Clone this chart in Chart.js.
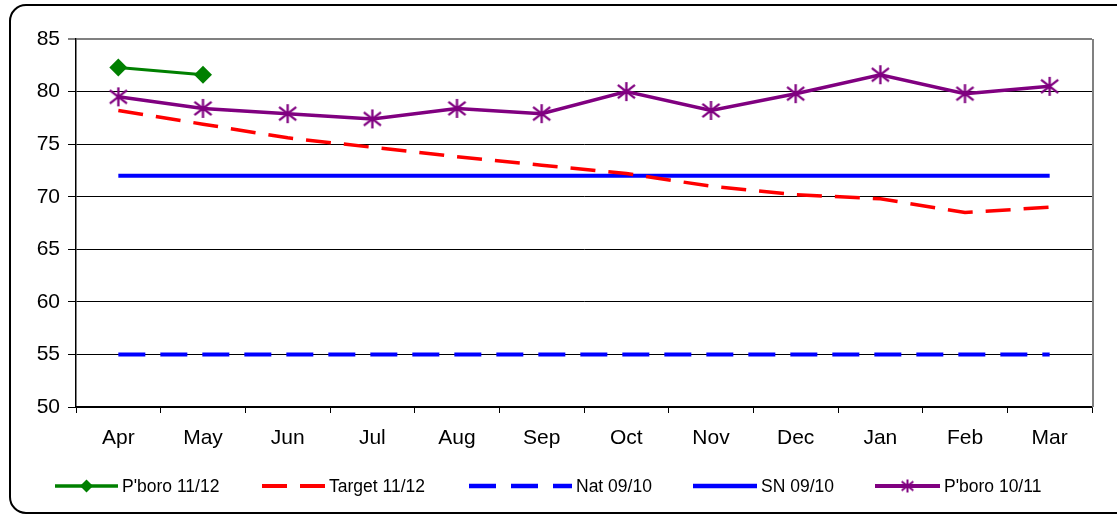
<!DOCTYPE html>
<html lang="en">
<head>
  <meta charset="UTF-8">
  <title>P'boro monthly chart</title>
  <style>
    body { margin: 0; padding: 0; background: #fff; }
    #wrap { width: 1117px; height: 515px; position: relative; }
  </style>
</head>
<body>
<div id="wrap"><canvas id="chart" width="1117" height="515"></canvas></div>

<script src="https://cdn.jsdelivr.net/npm/chart.js"></script>
<script>
  // months
  const months = ['Apr', 'May', 'Jun', 'Jul', 'Aug', 'Sep', 'Oct', 'Nov', 'Dec', 'Jan', 'Feb', 'Mar'];

  // series values
  const pboro1112 = [82.3, 81.6, null, null, null, null, null, null, null, null, null, null];
  const target1112 = [78.2, 76.9, 75.6, 74.7, 73.8, 73.0, 72.2, 71.0, 70.2, 69.8, 68.5, 69.0];
  const nat0910 = [55, 55, 55, 55, 55, 55, 55, 55, 55, 55, 55, 55];
  const sn0910 = [72, 72, 72, 72, 72, 72, 72, 72, 72, 72, 72, 72];
  const pboro1011 = [79.5, 78.4, 77.9, 77.4, 78.4, 77.9, 80.0, 78.2, 79.8, 81.6, 79.8, 80.5];

  const yTicks = [50, 55, 60, 65, 70, 75, 80, 85];

  const FONT = '"Liberation Sans", Arial, sans-serif';

  // star marker (asterisk like the excel one)
  function makeStar(r, color, w) {
    const c = document.createElement('canvas');
    const s = r * 2 + 4;
    c.width = s; c.height = s;
    const g = c.getContext('2d');
    const m = s / 2;
    g.strokeStyle = color;
    g.lineWidth = w;
    g.beginPath();
    g.moveTo(m, m - r); g.lineTo(m, m + r);
    g.moveTo(m - r * 0.9, m - r * 0.7); g.lineTo(m + r * 0.9, m + r * 0.7);
    g.moveTo(m - r * 0.9, m + r * 0.7); g.lineTo(m + r * 0.9, m - r * 0.7);
    g.stroke();
    return c;
  }
  const starBig = makeStar(9.5, '#800080', 2.3);
  const starSmall = makeStar(6.5, '#800080', 2);

  // frame, white back, right plot border
  const framePlugin = {
    id: 'frame',
    beforeDraw(chart) {
      const ctx = chart.ctx;
      ctx.save();
      ctx.fillStyle = '#fff';
      ctx.fillRect(0, 0, chart.width, chart.height);
      ctx.strokeStyle = '#000';
      ctx.lineWidth = 2;
      ctx.beginPath();
      ctx.roundRect(10, 5, 1130, 508, 16);
      ctx.stroke();
      ctx.restore();
    },
    afterDatasetsDraw(chart) {
      const a = chart.chartArea;
      const ctx = chart.ctx;
      ctx.save();
      ctx.strokeStyle = '#808080';
      ctx.lineWidth = 2;
      ctx.beginPath();
      ctx.moveTo(a.right + 1, a.top);
      ctx.lineTo(a.right + 1, a.bottom);
      ctx.stroke();
      ctx.restore();
    }
  };

  // legend drawn by hand to show line + marker
  const legendPlugin = {
    id: 'handLegend',
    afterDraw(chart) {
      const ctx = chart.ctx;
      const starts = [55, 262, 469, 693, 875];
      const lens = [63, 63, 103, 64, 65];
      const y = 486;
      ctx.save();
      chart.data.datasets.forEach((ds, i) => {
        const x0 = starts[i], x1 = starts[i] + lens[i];
        ctx.strokeStyle = ds.borderColor;
        ctx.lineWidth = ds.borderWidth + 0.5;
        ctx.setLineDash(ds.borderDash || []);
        ctx.beginPath();
        ctx.moveTo(x0, y);
        ctx.lineTo(x1, y);
        ctx.stroke();
        ctx.setLineDash([]);
        const mx = (x0 + x1) / 2;
        if (ds.legendMarker === 'diamond') {
          ctx.fillStyle = ds.borderColor;
          ctx.beginPath();
          ctx.moveTo(mx, y - 6.5); ctx.lineTo(mx + 6.5, y); ctx.lineTo(mx, y + 6.5); ctx.lineTo(mx - 6.5, y);
          ctx.closePath();
          ctx.fill();
        } else if (ds.legendMarker === 'star') {
          ctx.drawImage(starSmall, mx - starSmall.width / 2, y - starSmall.height / 2);
        }
        ctx.fillStyle = '#000';
        ctx.font = '17.5px ' + FONT;
        ctx.textBaseline = 'middle';
        ctx.fillText(ds.label, x1 + 4, y + 1);
      });
      ctx.restore();
    }
  };

  const ctx = document.getElementById('chart').getContext('2d');
  new Chart(ctx, {
    type: 'line',
    data: {
      labels: months,
      datasets: [
        {
          label: "P'boro 11/12", data: pboro1112,
          borderColor: '#008000', backgroundColor: '#008000', borderWidth: 3,
          pointStyle: 'rectRot', pointRadius: 9, pointBorderWidth: 0, legendMarker: 'diamond'
        },
        {
          label: 'Target 11/12', data: target1112,
          borderColor: '#ff0000', borderWidth: 3.5, borderDash: [25, 13],
          pointRadius: 0
        },
        {
          label: 'Nat 09/10', data: nat0910,
          borderColor: '#0000ff', borderWidth: 4, borderDash: [27, 15],
          pointRadius: 0
        },
        {
          label: 'SN 09/10', data: sn0910,
          borderColor: '#0000ff', borderWidth: 4,
          pointRadius: 0
        },
        {
          label: "P'boro 10/11", data: pboro1011,
          borderColor: '#800080', backgroundColor: '#800080', borderWidth: 3.5,
          pointStyle: starBig, pointRadius: 9, legendMarker: 'star'
        }
      ]
    },
    options: {
      responsive: false,
      animation: false,
      spanGaps: false,
      layout: { padding: { left: 20, top: 39, right: 25, bottom: 60 } },
      plugins: { legend: { display: false }, tooltip: { enabled: false } },
      elements: { line: { tension: 0 } },
      scales: {
        x: {
          offset: true,
          afterFit(s) { s.height = 48; },
          grid: { offset: true, drawOnChartArea: false, drawTicks: true, tickLength: 6, color: '#000' },
          border: { color: '#000', width: 1.5 },
          ticks: { color: '#000', padding: 13, font: { family: FONT, size: 21 } }
        },
        y: {
          min: 50, max: 85,
          afterFit(s) { s.width = 56; },
          afterBuildTicks(s) { s.ticks = yTicks.map(v => ({ value: v })); },
          grid: {
            color: c => (c.tick && c.tick.value === 85) ? '#808080' : '#000',
            lineWidth: c => (c.tick && c.tick.value === 85) ? 2 : 1,
            drawTicks: true, tickLength: 8
          },
          border: { color: '#000', width: 1.5 },
          ticks: { color: '#000', padding: 8, font: { family: FONT, size: 21 } }
        }
      }
    },
    plugins: [framePlugin, legendPlugin]
  });
</script>
</body>
</html>
